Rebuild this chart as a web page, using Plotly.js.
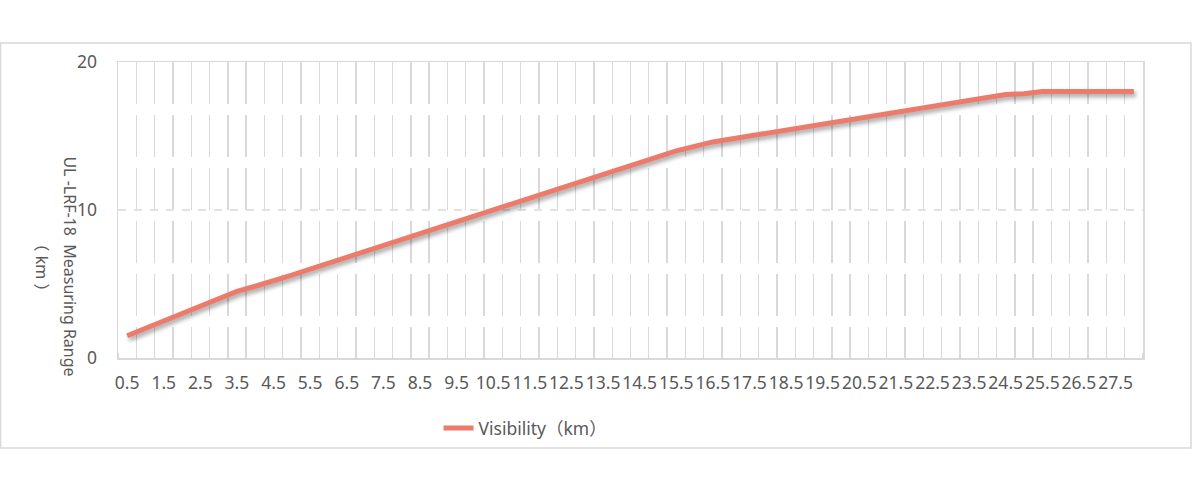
<!DOCTYPE html>
<html>
<head>
<meta charset="utf-8">
<script src="https://cdn.plot.ly/plotly-3.0.1.min.js"></script>
<style>
  html, body { margin: 0; padding: 0; background: #ffffff; }
  #chart { width: 1200px; height: 495px; }
  .scatterlayer .trace path.js-line { filter: drop-shadow(2px 3px 2px rgba(0,0,0,0.35)); }
</style>
</head>
<body>
<div id="chart"></div>
<script>
// Visibility categories (km)
const visibility = [0.5, 1, 1.5, 2, 2.5, 3, 3.5, 4, 4.5, 5, 5.5, 6, 6.5, 7, 7.5, 8, 8.5, 9, 9.5, 10,
  10.5, 11, 11.5, 12, 12.5, 13, 13.5, 14, 14.5, 15, 15.5, 16, 16.5, 17, 17.5, 18, 18.5, 19, 19.5, 20,
  20.5, 21, 21.5, 22, 22.5, 23, 23.5, 24, 24.5, 25, 25.5, 26, 26.5, 27, 27.5, 28];
// UL-LRF-18 measuring range (km)
const measuringRange = [1.5, 2.0, 2.5, 3.0, 3.5, 4.0, 4.5, 4.85, 5.2, 5.6, 6.0, 6.4, 6.8, 7.2, 7.6, 8.0, 8.4, 8.8, 9.2, 9.6,
  10.0, 10.4, 10.8, 11.2, 11.6, 12.0, 12.4, 12.8, 13.2, 13.6, 14.0, 14.3, 14.6, 14.8, 15.0, 15.2, 15.4, 15.6, 15.8, 16.0,
  16.2, 16.4, 16.6, 16.8, 17.0, 17.2, 17.4, 17.6, 17.8, 17.85, 18.0, 18.0, 18.0, 18.0, 18.0, 18.0];
// Labelled ticks on the x axis
const xTickValues = [0.5, 1.5, 2.5, 3.5, 4.5, 5.5, 6.5, 7.5, 8.5, 9.5, 10.5, 11.5, 12.5, 13.5,
  14.5, 15.5, 16.5, 17.5, 18.5, 19.5, 20.5, 21.5, 22.5, 23.5, 24.5, 25.5, 26.5, 27.5];
const xTickLabels = ['0.5', '1.5', '2.5', '3.5', '4.5', '5.5', '6.5', '7.5', '8.5', '9.5', '10.5', '11.5', '12.5', '13.5',
  '14.5', '15.5', '16.5', '17.5', '18.5', '19.5', '20.5', '21.5', '22.5', '23.5', '24.5', '25.5', '26.5', '27.5'];
const yTickValues = [0, 10, 20];
const seriesName = 'Visibility（km）';
const yTitleLine1 = 'UL -LRF-18  Measuring Range';
const yTitleLine2 = '（ km ）';

const textColor = '#595959';
const gridColor = '#d9d9d9';
const fontFamily = '"Noto Sans", "Noto Sans CJK SC", sans-serif';

const trace = {
  x: visibility,
  y: measuringRange,
  type: 'scatter',
  mode: 'lines',
  name: seriesName,
  line: { color: '#ec7b6b', width: 5 },
  showlegend: true
};

const layout = {
  width: 1200,
  height: 495,
  margin: { l: 118, r: 57, t: 62, b: 137 },
  paper_bgcolor: '#ffffff',
  plot_bgcolor: 'rgba(0,0,0,0)',
  font: { family: fontFamily, color: textColor, size: 17.5 },
  xaxis: {
    range: [0.25, 28.25],
    tickmode: 'array',
    tickvals: xTickValues,
    ticktext: xTickLabels,
    tickangle: 0,
    ticks: '',
    showgrid: false,
    zeroline: false,
    showline: true,
    linecolor: gridColor,
    linewidth: 1.5,
    mirror: true,
    ticklabelstandoff: 8,
    tickfont: { size: 17.5, color: textColor },
    minor: {
      tick0: 0.75,
      dtick: 0.5,
      showgrid: true,
      gridcolor: gridColor,
      gridwidth: 1.4,
      griddash: '42px,11px',
      ticks: 'inside',
      ticklen: 5,
      tickcolor: gridColor,
      tickwidth: 1.2
    }
  },
  yaxis: {
    range: [0, 20],
    tickmode: 'array',
    tickvals: yTickValues,
    ticks: '',
    showgrid: true,
    gridcolor: '#e2e2e2',
    gridwidth: 1.2,
    griddash: '8px,8px',
    zeroline: false,
    showline: true,
    linecolor: gridColor,
    linewidth: 1.5,
    mirror: true,
    ticklabelstandoff: 16,
    tickfont: { size: 17.5, color: textColor }
  },
  showlegend: true,
  legend: {
    orientation: 'h',
    x: 0.3127,
    xanchor: 'left',
    y: -0.176,
    yanchor: 'top',
    font: { size: 17.5, color: textColor },
    bgcolor: 'rgba(0,0,0,0)'
  },
  annotations: [
    {
      text: yTitleLine1,
      xref: 'paper', yref: 'paper',
      x: -0.047, y: 0.31,
      xanchor: 'center', yanchor: 'middle',
      textangle: 90,
      showarrow: false,
      font: { size: 16, color: textColor }
    },
    {
      text: yTitleLine2,
      xref: 'paper', yref: 'paper',
      x: -0.074, y: 0.305,
      xanchor: 'center', yanchor: 'middle',
      textangle: 90,
      showarrow: false,
      font: { size: 16, color: textColor }
    }
  ],
  shapes: [
    {
      type: 'rect',
      xref: 'paper', yref: 'paper',
      x0: -0.1146, x1: 1.0468,
      y0: -0.304, y1: 1.064,
      line: { color: gridColor, width: 1.5 },
      fillcolor: 'rgba(0,0,0,0)',
      layer: 'below'
    }
  ]
};

Plotly.newPlot('chart', [trace], layout, { displayModeBar: false, staticPlot: true });
</script>
</body>
</html>
